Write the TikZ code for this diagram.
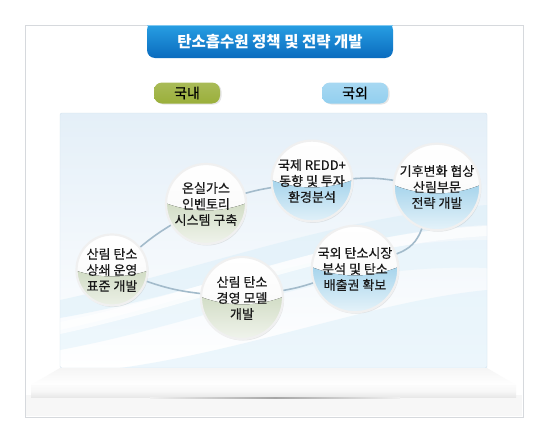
\documentclass[tikz,border=0pt]{standalone}
\usepackage{fontspec}
\newfontfamily\kr{Noto Sans CJK KR}
\newfontfamily\krb[FakeBold=0.6]{Noto Sans CJK KR}
\usetikzlibrary{shadows,calc}
\definecolor{frameline}{HTML}{D6D9DD}
\definecolor{tabtop}{HTML}{2AA3E6}
\definecolor{tabbot}{HTML}{0A6BBE}
\definecolor{olive}{HTML}{9AAF3A}
\definecolor{skyb}{HTML}{92CFEF}
\definecolor{paneltop}{HTML}{E4EFF8}
\definecolor{panelline}{HTML}{D3E2EE}
\definecolor{linkc}{HTML}{A3BBCB}
\definecolor{gball}{HTML}{A3B98A}
\definecolor{bball}{HTML}{4AA8D8}
\tikzset{
  ball/.style={circle, draw=white!88!gray, line width=2.2pt, inner sep=0pt,
    top color=white, bottom color=#1!20!white, middle color=white!97!gray,
    drop shadow={opacity=0.18, shadow xshift=1pt, shadow yshift=-1.5pt},
    align=center, font=\krb\fontsize{13}{16}\selectfont, text=black!90,
    path picture={
      \fill[top color=#1!80!white, bottom color=#1!12!white]
        ($(path picture bounding box.center)+(-48,-4)$)
        .. controls +(30,14) and +(-30,14) .. ++(96,0) -- ++(0,50) -- ++(-96,0) -- cycle;
      \fill[white, opacity=0.5] ($(path picture bounding box.center)+(0,-25)$) ellipse (26 and 12);
    }},
  gb/.style={ball=gball},
  bb/.style={ball=bball},
  link/.style={draw=linkc, line width=1.6pt},
  pill/.style={rounded corners=8pt, font=\krb\fontsize{14}{14}\selectfont, text=black,
    minimum width=66pt, minimum height=21pt, inner sep=0pt,
    drop shadow={opacity=0.2, shadow xshift=1.5pt, shadow yshift=-1pt}}
}
\begin{document}
\begin{tikzpicture}[x=1pt,y=-1pt]
\useasboundingbox (0,0) rectangle (550,442);
\fill[white] (0,0) rectangle (550,442);
% outer frame
\draw[frameline, fill=white, drop shadow={opacity=0.15, shadow xshift=1pt, shadow yshift=-1pt}] (25,25) rectangle (523,417);
\fill[white!96!blue!40!gray!10] (26,395) rectangle (522,416);
% title tab
\shade[top color=tabtop, bottom color=tabbot, rounded corners=8pt]
  (147,22) -- (147,58) -- (393,58) -- (393,22) -- cycle;
\fill[white] (140,18) rectangle (400,25);
\draw[tabtop!60!white, line width=0.8pt] (147,25.5) -- (393,25.5);
\node[font=\kr\bfseries\fontsize{15.5}{15.5}\selectfont, text=white] (title) at (270,42) {탄소흡수원 정책 및 전략 개발};
% pills
\node[pill, top color=olive!85!white, bottom color=olive] (dom) at (187,93) {국내};
\node[pill, top color=skyb!80!white, bottom color=skyb] (abr) at (355,93) {국외};
% panel
\shade[top color=paneltop, bottom color=white, rounded corners=2pt] (60,113) rectangle (487,368);
\begin{scope}
\clip (60,113) rectangle (487,368);
\fill[skyb!25, opacity=0.6] (60,330) .. controls (200,300) and (330,240) .. (487,240) -- (487,268) .. controls (330,262) and (220,320) .. (60,350) -- cycle;
\fill[skyb!35, opacity=0.5] (60,300) .. controls (200,270) and (340,215) .. (487,205) -- (487,225) .. controls (340,232) and (220,290) .. (60,318) -- cycle;
\fill[white, opacity=0.7] (60,322) .. controls (210,290) and (340,232) .. (487,226) -- (487,236) .. controls (340,244) and (210,302) .. (60,334) -- cycle;
\fill[skyb!28, opacity=0.6] (120,368) .. controls (250,350) and (380,300) .. (487,290) -- (487,368) -- cycle;
\end{scope}
\draw[panelline, rounded corners=2pt] (60,113) rectangle (487,368);
% platform
\shade[top color=white!92!gray, bottom color=white] (60,368) -- (487,368) -- (516,385) -- (31,385) -- cycle;
\shade[top color=white!97!gray, bottom color=white!82!gray, middle color=white!94!gray] (31,385) rectangle (516,397);
\shade[left color=white!88!gray, right color=white!88!gray, middle color=gray!70] (150,397) rectangle (400,398.5);
% balls
\node[gb, minimum size=71pt] (c1) at (112,270) {산림 탄소\\상쇄 운영\\표준 개발};
\node[gb, minimum size=80pt] (c2) at (206,204) {온실가스\\인벤토리\\시스템 구축};
\node[bb, minimum size=80pt] (c3) at (312,181) {국제 REDD+\\동향 및 투자\\환경분석};
\node[bb, minimum size=86pt] (c4) at (437,187) {기후변화 협상\\산림부문\\전략 개발};
\node[bb, minimum size=84pt] (c5) at (355,269) {국외 탄소시장\\분석 및 탄소\\배출권 확보};
\node[gb, minimum size=82pt] (c6) at (242,298) {산림 탄소\\경영 모델\\개발};
% links
\draw[link] (c1) to[bend left=4] (c2);
\draw[link] (c2) to[bend left=3] (c3);
\draw[link] (c3) to[bend left=6] (c4);
\draw[link] (c4) to[bend left=25] (c5);
\draw[link] (c5) to[bend left=4] (c6);
\draw[link] (c6) to[bend left=6] (c1);
\end{tikzpicture}
\end{document}
